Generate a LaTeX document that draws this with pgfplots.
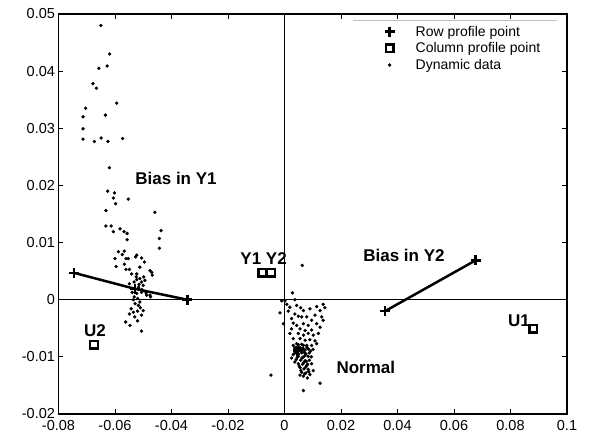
\documentclass[border=0pt]{standalone}
\usepackage{pgfplots}
\pgfplotsset{compat=1.18}
\usepackage{fontspec}
\setmainfont{Liberation Sans}

\begin{document}
\begin{tikzpicture}[x=1pt,y=1pt]
\path[use as bounding box] (-58.5,-27) rectangle (531.5,414);
\begin{axis}[
  at={(0,0)}, anchor=south west,
  scale only axis, width=508.5pt, height=400pt,
  xmin=-0.08, xmax=0.1, ymin=-0.02, ymax=0.05,
  xtick={-0.08,-0.06,-0.04,-0.02,0,0.02,0.04,0.06,0.08,0.1},
  xticklabels={-0.08,-0.06,-0.04,-0.02,0,0.02,0.04,0.06,0.08,0.1},
  ytick={-0.02,-0.01,0,0.01,0.02,0.03,0.04,0.05},
  yticklabels={-0.02,-0.01,0,0.01,0.02,0.03,0.04,0.05},
  scaled ticks=false,
  tick align=inside, major tick length=5pt,
  axis line style={line width=1.5pt},
  tick style={line width=0.8pt, black},
  ticklabel style={font=\fontsize{14.5}{14.5}\selectfont},
  xticklabel style={yshift=-3pt},
  legend style={at={(axis cs:0.0354,0.0483)}, anchor=north west, draw=none, fill=none,
    font=\fontsize{14}{14}\selectfont, inner sep=0pt, row sep=1pt, column sep=19pt,
    nodes={inner sep=2pt}},
  legend cell align=left,
]
% zero lines
\draw[line width=0.8pt] (axis cs:-0.08,0) -- (axis cs:0.1,0);
\draw[line width=0.8pt] (axis cs:0,-0.02) -- (axis cs:0,0.05);
\draw[gray!50, line width=1pt] (axis cs:0.0243,0.0489) -- (axis cs:0.0965,0.0489);

% dynamic data
\addplot[only marks, mark=*, mark size=1.5pt, black, forget plot] coordinates {
(-0.0650,0.0480)(-0.0619,0.0430)(-0.0657,0.0405)(-0.0628,0.0409)(-0.0678,0.0378)
(-0.0666,0.0370)(-0.0704,0.0335)(-0.0594,0.0344)(-0.0713,0.0320)(-0.0634,0.0323)
(-0.0713,0.0299)(-0.0713,0.0281)(-0.0673,0.0277)(-0.0649,0.0283)(-0.0625,0.0277)
(-0.0573,0.0282)(-0.0620,0.0231)(-0.0626,0.0190)(-0.0602,0.0187)(-0.0606,0.0178)
(-0.0553,0.0176)(-0.0598,0.0168)(-0.0632,0.0156)(-0.0459,0.0153)
(-0.0632,0.0129)(-0.0614,0.0129)(-0.0606,0.0119)(-0.0582,0.0124)(-0.0568,0.0119)
(-0.0557,0.0116)(-0.0557,0.0105)(-0.0437,0.0121)(-0.0443,0.0107)(-0.0443,0.0090)
(-0.0588,0.0084)(-0.0567,0.0085)(-0.0600,0.0072)(-0.0596,0.0058)(-0.0574,0.0079)
(-0.0561,0.0072)(-0.0567,0.0062)(-0.0553,0.0072)(-0.0561,0.0053)(-0.0549,0.0053)
(-0.0523,0.0078)(-0.0527,0.0075)(-0.0506,0.0073)(-0.0496,0.0066)(-0.0512,0.0057)
(-0.0541,0.0045)(-0.0523,0.0045)(-0.0476,0.0051)(-0.0468,0.0043)(-0.0549,0.0028)
(-0.0532,0.0031)(-0.0523,0.0035)(-0.0512,0.0037)(-0.0506,0.0031)(-0.0494,0.0034)
(-0.0500,0.0025)(-0.0517,0.0022)(-0.0529,0.0019)(-0.0539,0.0013)(-0.0523,0.0011)
(-0.0506,0.0013)(-0.0488,0.0008)(-0.0476,0.0008)(-0.0532,0.0005)(-0.0520,0.0002)
(-0.0512,-0.0004)(-0.0529,-0.0007)(-0.0517,-0.0010)(-0.0543,-0.0016)(-0.0535,-0.0022)
(-0.0520,-0.0020)(-0.0500,-0.0019)(-0.0506,-0.0027)(-0.0549,-0.0025)(-0.0562,-0.0039)
(-0.0547,-0.0045)(-0.0520,-0.0037)(-0.0506,-0.0055)
(-0.0470,0.0048)(-0.0474,0.0005)(-0.0515,0.0027)(-0.0505,0.0018)(-0.0498,0.0040)
(-0.0535,0.0000)(-0.0510,-0.0014)(-0.0525,0.0040)(-0.0490,0.0012)(-0.0530,-0.0030)
(0.0063,0.0060)(-0.0048,-0.0132)(0.0067,-0.0159)(0.0126,-0.0146)
(0.0028,0.0012)(-0.0010,-0.0002)(0.0002,-0.0002)(0.0037,0.0000)(0.0008,-0.0008)
(0.0019,-0.0013)(-0.0016,-0.0023)(0.0043,-0.0010)(0.0057,-0.0014)(0.0067,-0.0019)
(0.0090,-0.0016)(0.0114,-0.0012)(0.0137,-0.0008)(0.0126,-0.0019)(0.0143,-0.0014)
(0.0013,-0.0020)(0.0037,-0.0025)(0.0049,-0.0029)(0.0061,-0.0030)(0.0025,-0.0033)
(0.0079,-0.0030)(0.0108,-0.0027)(0.0132,-0.0030)(0.0137,-0.0036)(0.0096,-0.0036)
(-0.0004,-0.0042)(0.0031,-0.0041)(0.0043,-0.0045)(0.0067,-0.0042)(0.0084,-0.0045)
(0.0114,-0.0042)(0.0126,-0.0048)(0.0025,-0.0051)(0.0055,-0.0051)(0.0073,-0.0054)
(0.0096,-0.0053)(0.0019,-0.0059)(0.0049,-0.0059)(0.0067,-0.0062)(0.0084,-0.0059)
(0.0102,-0.0062)(0.0120,-0.0059)(0.0031,-0.0068)(0.0055,-0.0068)(0.0073,-0.0071)
(0.0090,-0.0070)(0.0108,-0.0072)(0.0043,-0.0077)(0.0061,-0.0078)(0.0079,-0.0080)
(0.0096,-0.0080)(0.0114,-0.0077)(0.0037,-0.0084)(0.0052,-0.0086)(0.0067,-0.0087)
(0.0084,-0.0086)(0.0101,-0.0087)(0.0057,-0.0090)
(0.0031,-0.0080)(0.0049,-0.0079)(0.0067,-0.0080)(0.0079,-0.0083)(0.0037,-0.0086)
(0.0055,-0.0084)(0.0073,-0.0088)(0.0084,-0.0086)(0.0043,-0.0092)(0.0061,-0.0093)
(0.0076,-0.0095)(0.0031,-0.0096)(0.0049,-0.0099)(0.0067,-0.0100)(0.0084,-0.0099)
(0.0041,-0.0105)(0.0057,-0.0106)(0.0073,-0.0107)(0.0088,-0.0106)(0.0049,-0.0112)
(0.0064,-0.0113)(0.0079,-0.0115)(0.0096,-0.0112)(0.0055,-0.0119)(0.0069,-0.0121)
(0.0084,-0.0122)(0.0061,-0.0127)(0.0076,-0.0128)(0.0090,-0.0131)(0.0067,-0.0134)
(0.0081,-0.0137)(0.0055,-0.0132)(0.0102,-0.0124)(0.0037,-0.0109)(0.0025,-0.0102)
(0.0060,-0.0090)(0.0070,-0.0092)(0.0050,-0.0095)(0.0088,-0.0093)(0.0062,-0.0102)
(0.0072,-0.0098)(0.0058,-0.0088)(0.0045,-0.0101)(0.0078,-0.0108)(0.0068,-0.0110)
(0.0052,-0.0116)(0.0075,-0.0118)(0.0095,-0.0100)(0.0092,-0.0090)(0.0035,-0.0094)
(0.0065,-0.0085)(0.0082,-0.0113)(0.0058,-0.0124)(0.0071,-0.0130)(0.0086,-0.0126)
};

% profile lines
\addplot[black, line width=2.5pt, forget plot] coordinates {(-0.0745,0.0047)(-0.0529,0.0019)(-0.0344,0.0)};
\addplot[black, line width=2.5pt, forget plot] coordinates {(0.0356,-0.0020)(0.0677,0.0069)};

% row profile points
\addplot[only marks, mark=+, mark size=5pt, black, line width=2.6pt] coordinates {
(-0.0745,0.0047)(-0.0529,0.0019)(-0.0344,0.0)(0.0356,-0.0020)(0.0677,0.0069)(0.0047,-0.0089)};
\addlegendentry{Row profile point}

% column profile points
\addplot[only marks, mark=square*, mark size=3.8pt, black, line width=2.4pt,
  mark options={fill=white}] coordinates {
(-0.0079,0.0047)(-0.0048,0.0047)(-0.0674,-0.0079)(0.0881,-0.0051)};
\addlegendentry{Column profile point}

\addlegendimage{only marks, mark=*, mark size=1.5pt, black}
\addlegendentry{Dynamic data}

% labels
\tikzset{lab/.style={font=\bfseries\fontsize{17}{17}\selectfont}}
\node[lab] at (axis cs:-0.0384,0.0212) {Bias in Y1};
\node[lab] at (axis cs:-0.0074,0.0072) {Y1 Y2};
\node[lab] at (axis cs:-0.0671,-0.0055) {U2};
\node[lab] at (axis cs:0.0830,-0.0036) {U1};
\node[lab] at (axis cs:0.0423,0.0078) {Bias in Y2};
\node[lab] at (axis cs:0.0288,-0.0119) {Normal};
\end{axis}
\end{tikzpicture}
\end{document}
